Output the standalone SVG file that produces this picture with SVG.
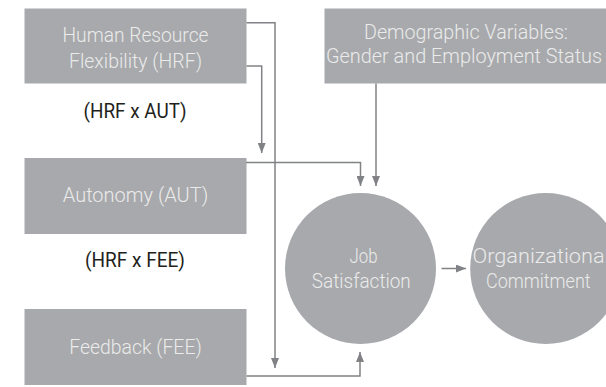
<svg xmlns="http://www.w3.org/2000/svg" width="606" height="387" viewBox="0 0 606 387">
  <style>
    .box { fill: #a7a9ac; }
    .in { fill: #ebebeb; font-family: Roboto, "Open Sans", "Liberation Sans", sans-serif; font-weight: 300; font-size: 20.5px; text-anchor: middle; }
    .lbl { fill: #231f20; font-family: Roboto, "Open Sans", "Liberation Sans", sans-serif; font-weight: 400; font-size: 20px; text-anchor: middle; }
    .conn { fill: none; stroke: #808285; stroke-width: 1.5; }
  </style>
  <defs>
    <marker id="arrow" markerUnits="userSpaceOnUse" markerWidth="11" markerHeight="8" refX="10" refY="4" orient="auto">
      <path d="M0,0 L10,4 L0,8 Z" fill="#808285"/>
    </marker>
  </defs>

  <rect width="606" height="387" fill="#ffffff"/>

  <!-- predictor boxes -->
  <g id="hrf">
    <rect class="box" x="24.5" y="8.5" width="222" height="75"/>
    <text class="in" x="135.5" y="41.5" textLength="146" lengthAdjust="spacingAndGlyphs">Human Resource</text>
    <text class="in" x="135.5" y="67.5" textLength="133" lengthAdjust="spacingAndGlyphs">Flexibility (HRF)</text>
  </g>

  <g id="aut">
    <rect class="box" x="24.5" y="158" width="222" height="76"/>
    <text class="in" x="135.5" y="202" textLength="145.5" lengthAdjust="spacingAndGlyphs">Autonomy (AUT)</text>
  </g>

  <g id="fee">
    <rect class="box" x="24.5" y="309" width="222" height="76"/>
    <text class="in" x="135.5" y="354" textLength="132.5" lengthAdjust="spacingAndGlyphs">Feedback (FEE)</text>
  </g>

  <g id="demographics">
    <rect class="box" x="324.5" y="8.5" width="281.5" height="75"/>
    <text class="in" x="466" y="39" textLength="204" lengthAdjust="spacingAndGlyphs">Demographic Variables:</text>
    <text class="in" x="464" y="63" textLength="276" lengthAdjust="spacingAndGlyphs">Gender and Employment Status</text>
  </g>

  <!-- interaction labels -->
  <g id="hrf-x-aut">
    <text class="lbl" x="135" y="117.5" textLength="103" lengthAdjust="spacingAndGlyphs">(HRF x AUT)</text>
  </g>
  <g id="hrf-x-fee">
    <text class="lbl" x="135" y="267" textLength="100" lengthAdjust="spacingAndGlyphs">(HRF x FEE)</text>
  </g>

  <!-- outcome circles -->
  <g id="job-satisfaction">
    <circle class="box" cx="360.5" cy="268.5" r="75.5"/>
    <text class="in" x="363.5" y="263" textLength="28" lengthAdjust="spacingAndGlyphs">Job</text>
    <text class="in" x="361.3" y="288" textLength="99" lengthAdjust="spacingAndGlyphs">Satisfaction</text>
  </g>

  <g id="organizational-commitment">
    <circle class="box" cx="545.7" cy="268.5" r="75.5"/>
    <text class="in" x="541" y="263" textLength="137" lengthAdjust="spacingAndGlyphs">Organizational</text>
    <text class="in" x="538.3" y="287.5" textLength="104.7" lengthAdjust="spacingAndGlyphs">Commitment</text>
  </g>

  <!-- connectors -->
  <g id="connectors">
    <path class="conn" d="M246.5,22.7 H275 V368" marker-end="url(#arrow)"/>
    <path class="conn" d="M246.5,66 H261.7 V153" marker-end="url(#arrow)"/>
    <path class="conn" d="M246,162.5 H360.5 V186" marker-end="url(#arrow)"/>
    <path class="conn" d="M376,83.5 V186" marker-end="url(#arrow)"/>
    <path class="conn" d="M246.5,376 H360 V352" marker-end="url(#arrow)"/>
    <path class="conn" d="M441.5,268.5 H466" marker-end="url(#arrow)"/>
  </g>
</svg>
